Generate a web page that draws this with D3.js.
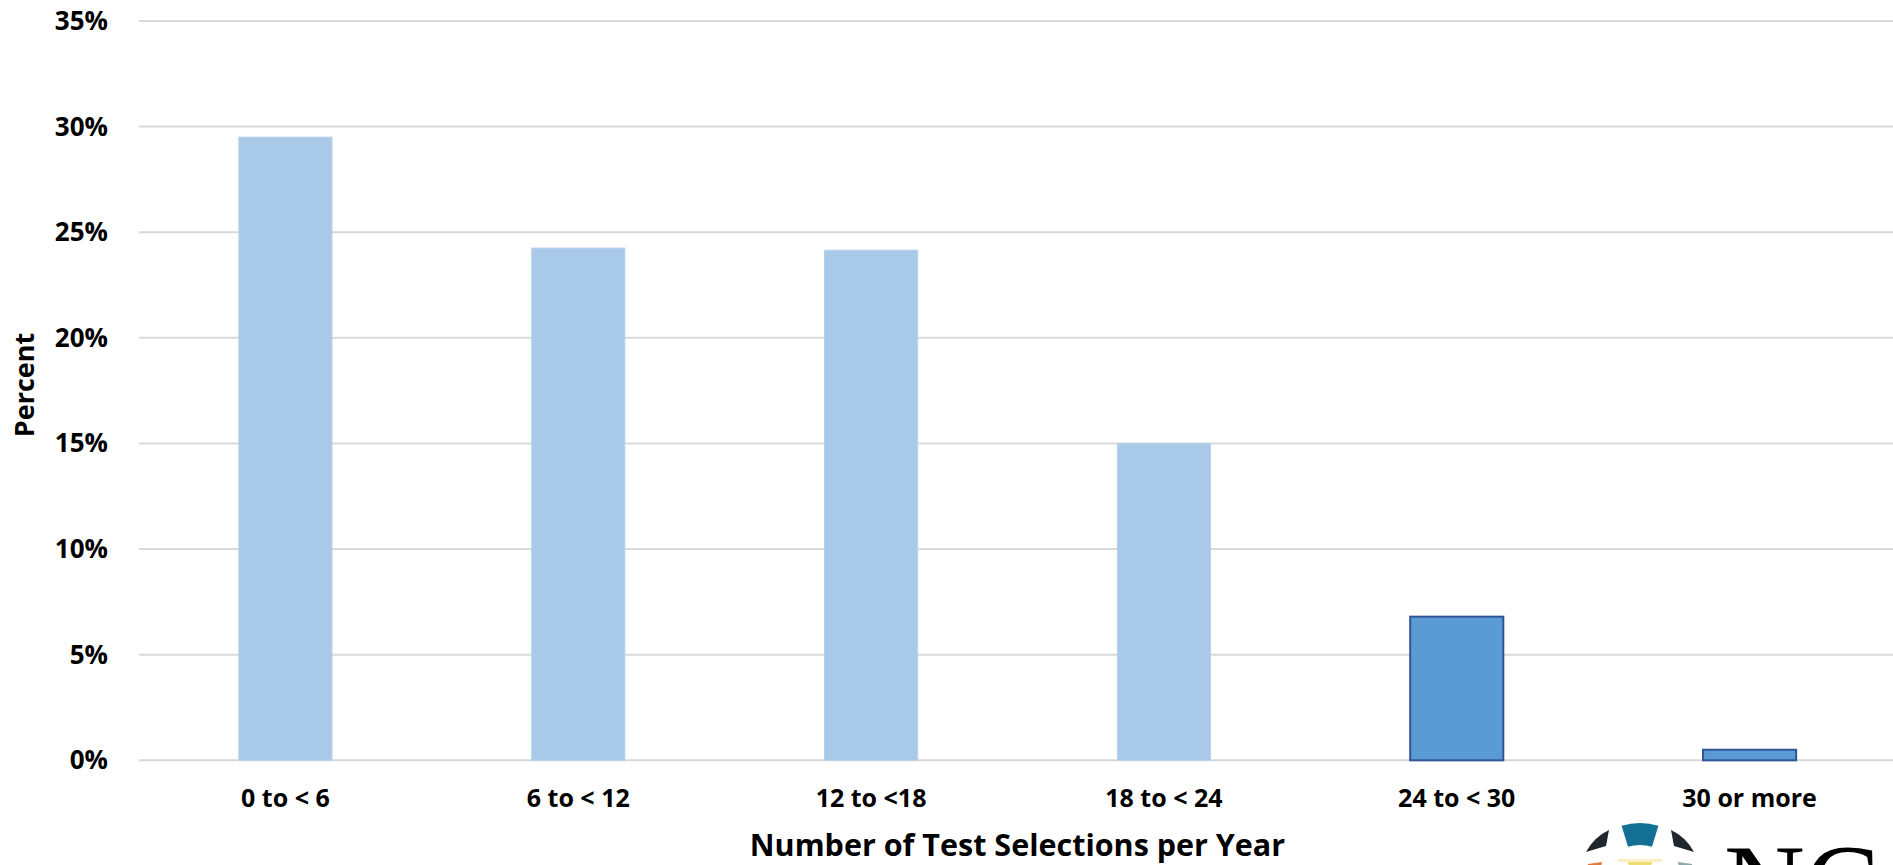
<!DOCTYPE html>
<html>
<head>
<meta charset="utf-8">
<script src="https://cdn.jsdelivr.net/npm/d3@7"></script>
<style>
  html, body { margin: 0; padding: 0; background: #fff; }
  svg { display: block; }
  text { font-family: "Open Sans", "Liberation Sans", sans-serif; font-weight: 700; fill: #000; }
</style>
</head>
<body>
<svg id="chart" width="1893" height="865"></svg>
<script>
// Share of sites by number of test selections per year
const categories = ["0 to < 6", "6 to < 12", "12 to <18", "18 to < 24", "24 to < 30", "30 or more"];
const percents = [29.5, 24.25, 24.15, 15.0, 6.8, 0.5];
const highlighted = ["24 to < 30", "30 or more"];
const yTicks = [0, 5, 10, 15, 20, 25, 30, 35];

const svg = d3.select("#chart");
const W = 1893, H = 865;
const plot = { left: 139, right: 1896, top: 21, bottom: 760.3 };

const x = d3.scaleBand()
  .domain(categories)
  .range([plot.left, plot.right])
  .paddingInner(0.682)
  .paddingOuter(0.341);

const y = d3.scaleLinear()
  .domain([0, 35])
  .range([plot.bottom, plot.top]);

// horizontal gridlines
svg.append("g")
  .selectAll("line")
  .data(yTicks)
  .join("line")
  .attr("x1", plot.left)
  .attr("x2", W)
  .attr("y1", d => y(d))
  .attr("y2", d => y(d))
  .attr("stroke", "#d9d9d9")
  .attr("stroke-width", 2);

// y tick labels
svg.append("g")
  .selectAll("text")
  .data(yTicks)
  .join("text")
  .attr("x", 108)
  .attr("y", d => y(d) + 9)
  .attr("text-anchor", "end")
  .attr("font-size", 26)
  .text(d => d + "%");

// bars
const rows = categories.map((c, i) => ({ cat: c, value: percents[i] }));
svg.append("g")
  .selectAll("rect")
  .data(rows)
  .join("rect")
  .attr("x", d => x(d.cat))
  .attr("width", x.bandwidth())
  .attr("y", d => y(d.value))
  .attr("height", d => y(0) - y(d.value))
  .attr("fill", d => highlighted.includes(d.cat) ? "#5b9bd5" : "#a9c9e8")
  .attr("stroke", d => highlighted.includes(d.cat) ? "#2f5597" : "#b7d1ec")
  .attr("stroke-width", d => highlighted.includes(d.cat) ? 2 : 1);

// category labels
svg.append("g")
  .selectAll("text")
  .data(categories)
  .join("text")
  .attr("x", d => x(d) + x.bandwidth() / 2)
  .attr("y", 807)
  .attr("text-anchor", "middle")
  .attr("font-size", 25)
  .text(d => d);

// axis titles
svg.append("text")
  .attr("x", (plot.left + plot.right) / 2)
  .attr("y", 856)
  .attr("text-anchor", "middle")
  .attr("font-size", 30.5)
  .text("Number of Test Selections per Year");

svg.append("text")
  .attr("transform", "translate(34,385) rotate(-90)")
  .attr("text-anchor", "middle")
  .attr("font-size", 27)
  .text("Percent");

// organisation mark in the lower-right corner (globe + lettering)
const logo = svg.append("g").attr("transform", "translate(1640,886)");
const arc = d3.arc();
const deg = Math.PI / 180;
logo.append("path")
  .attr("d", arc({ innerRadius: 41, outerRadius: 63, startAngle: -17 * deg, endAngle: 17 * deg, cornerRadius: 2 }))
  .attr("fill", "#136f94");
[-1, 1].forEach(s => {
  logo.append("path")
    .attr("d", `M ${s * 31} ${-56} Q ${s * 46} ${-49} ${s * 54} ${-34} L ${s * 34} ${-40} Z`)
    .attr("fill", "#20262b");
});
logo.append("path")
  .attr("d", arc({ innerRadius: 0, outerRadius: 27, startAngle: -28 * deg, endAngle: 28 * deg }))
  .attr("fill", "#eedd70");
logo.append("rect").attr("x", -22).attr("y", -27).attr("width", 44).attr("height", 3).attr("fill", "#f6f0c4");
logo.append("path")
  .attr("d", "M -52 -22 L -38 -24 L -40 -14 L -54 -12 Z")
  .attr("fill", "#e0783e");
logo.append("path")
  .attr("d", "M 52 -22 L 38 -24 L 40 -14 L 54 -12 Z")
  .attr("fill", "#8fa6a8");
svg.append("text")
  .attr("x", 1724)
  .attr("y", 922)
  .attr("font-family", "Liberation Serif, DejaVu Serif, serif")
  .attr("font-weight", 400)
  .attr("font-size", 112)
  .attr("fill", "#1e2226")
  .style("font-family", "'Liberation Serif', 'DejaVu Serif', serif")
  .style("font-weight", 400)
  .text("NC");
</script>
</body>
</html>
